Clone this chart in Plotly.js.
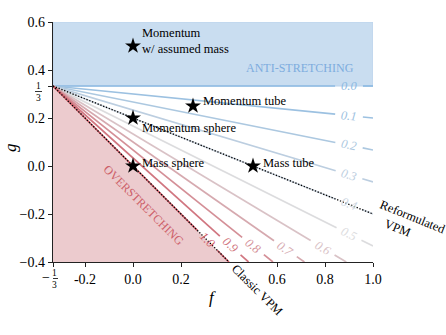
<!DOCTYPE html>
<html>
<head>
<meta charset="utf-8">
<script src="https://cdn.plot.ly/plotly-3.0.1.min.js"></script>
<style>html,body{margin:0;padding:0;background:#fff;}#chart{width:446px;height:335px;}</style>
</head>
<body>
<div id="chart"></div>
<script>
// ---- data ----
const levels = [0.0, 0.1, 0.2, 0.3, 0.4, 0.5, 0.6, 0.7, 0.8, 0.9, 1.0];
const levelText = ['0.0','0.1','0.2','0.3','0.4','0.5','0.6','0.7','0.8','0.9','1.0'];
const labelF = [0.9, 0.9, 0.9, 0.9, 0.9, 0.9, 0.79, 0.635, 0.5, 0.405, 0.31];

const starNames = ['Momentum<br>w/ assumed mass', 'Momentum tube', 'Momentum sphere', 'Mass sphere', 'Mass tube'];
const starF = [0, 0.25, 0, 0, 0.5];
const starG = [0.5, 0.25, 0.2, 0, 0];

const xTickVals = [-1/3, -0.2, 0.0, 0.2, 0.6, 0.8, 1.0];
const xTickText = ['', '-0.2', '0.0', '0.2', '0.6', '0.8', '1.0'];
const yTickVals = [-0.4, -0.2, 0.0, 0.2, 1/3, 0.4, 0.6];
const yTickText = ['\u22120.4', '\u22120.2', '0.0', '0.2', '', '0.4', '0.6'];

const classicSlope = 1.0;      // g = 1/3 - 1.0 (f + 1/3)
const reformSlope = 0.4;       // g = 1/3 - 0.4 (f + 1/3)

// ---- geometry helpers ----
const f0 = -1/3, g0 = 1/3, fMax = 1.0, gMin = -0.4, gMax = 0.6;
function gAt(c, f) { return g0 - c * (f - f0); }
function fEnd(c) { return c === 0 ? fMax : Math.min(fMax, f0 + (g0 - gMin) / c); }
function px(f) { return (f - f0) / (fMax - f0); }
function py(g) { return (g - gMin) / (gMax - gMin); }

function mix(a, b, t) { return a.map((v, i) => Math.round(v + (b[i] - v) * t)); }
const cBlue = [140, 186, 226], cMid = [220, 220, 222], cRed = [206, 92, 104];
function levelColor(c) {
  const col = c <= 0.5 ? mix(cBlue, cMid, c / 0.5) : mix(cMid, cRed, (c - 0.5) / 0.5);
  return 'rgb(' + col.join(',') + ')';
}

const serif = '"Liberation Serif", "Times New Roman", Times, serif';
const traces = [];

// regions
traces.push({x: [f0, fMax, fMax, f0, f0], y: [g0, g0, gMax, gMax, g0], mode: 'lines', fill: 'toself',
  fillcolor: 'rgb(201,221,240)', line: {color: 'rgb(188,211,236)', width: 1}, hoverinfo: 'skip', showlegend: false});
traces.push({x: [f0, f0 + (g0 - gMin) / classicSlope, f0, f0], y: [g0, gMin, gMin, g0], mode: 'lines', fill: 'toself',
  fillcolor: 'rgb(236,203,206)', line: {width: 0}, hoverinfo: 'skip', showlegend: false});

// contour lines with gaps at labels
const gap = 0.058;
const annotations = [];
levels.forEach((c, i) => {
  const d = gap / Math.sqrt(1 + c * c);
  const fl = labelF[i];
  const fe = fEnd(c);
  traces.push({
    x: [f0, fl - d, null, fl + d, fe],
    y: [g0, gAt(c, fl - d), null, gAt(c, fl + d), gAt(c, fe)],
    mode: 'lines', line: {color: levelColor(c), width: 1.7}, connectgaps: false,
    hoverinfo: 'skip', showlegend: false
  });
  annotations.push({x: fl, y: gAt(c, fl), text: '<i>' + levelText[i] + '</i>', showarrow: false,
    textangle: Math.atan(c) * 180 / Math.PI, font: {family: serif, size: 12.5, color: levelColor(c)},
    xanchor: 'center', yanchor: 'middle'});
});

// VPM dotted lines
[classicSlope, reformSlope].forEach(c => {
  const fe = fEnd(c);
  traces.push({x: [f0, fe], y: [g0, gAt(c, fe)], mode: 'lines',
    line: {color: 'black', width: 1.3, dash: '1.3px,1.7px'}, hoverinfo: 'skip', showlegend: false});
});

// stars
traces.push({x: starF, y: starG, mode: 'markers', marker: {symbol: 'star', size: 12, color: 'black'},
  hoverinfo: 'skip', showlegend: false, cliponaxis: false});

const starShift = [[7, 5], [8, 5], [7, -10], [7, 3], [8, 3]];
starNames.forEach((n, i) => {
  annotations.push({x: starF[i], y: starG[i], text: n, showarrow: false, xanchor: 'left', yanchor: 'middle',
    align: 'left', xshift: starShift[i][0], yshift: starShift[i][1], font: {family: serif, size: 12.5, color: 'black'}});
});

// region / line labels
const C = {xanchor: 'center', yanchor: 'middle', showarrow: false};
annotations.push(Object.assign({x: 0.696, y: 0.408, text: 'ANTI-STRETCHING',
  font: {family: serif, size: 12, color: 'rgb(125,172,222)'}}, C));
annotations.push(Object.assign({x: 0.044, y: -0.1625, text: 'OVERSTRETCHING', textangle: 45,
  font: {family: serif, size: 12, color: 'rgb(205,95,105)'}}, C));
annotations.push(Object.assign({xref: 'paper', yref: 'paper', x: px(0.517), y: py(-0.517), text: 'Classic VPM', textangle: 45,
  font: {family: serif, size: 12.5, color: 'black'}}, C));
annotations.push(Object.assign({xref: 'paper', yref: 'paper', x: px(1.165), y: py(-0.2125), text: 'Reformulated', textangle: 22,
  font: {family: serif, size: 12.5, color: 'black'}}, C));
annotations.push(Object.assign({xref: 'paper', yref: 'paper', x: px(1.100), y: py(-0.258), text: 'VPM', textangle: 22,
  font: {family: serif, size: 12.5, color: 'black'}}, C));

// axis titles
annotations.push(Object.assign({xref: 'paper', yref: 'paper', x: 0.497, y: -0.146, text: '<i>f</i>',
  font: {family: serif, size: 17, color: 'black'}}, C));
annotations.push(Object.assign({xref: 'paper', yref: 'paper', x: -0.134, y: 0.475, text: '<i>g</i>', textangle: -90,
  font: {family: serif, size: 17, color: 'black'}}, C));

// fraction tick labels
annotations.push(Object.assign({xref: 'paper', x: 0, y: 1/3, xshift: -14.5, yshift: -6, text: '1<br>3',
  font: {family: serif, size: 9.5, color: 'black'}}, C));
annotations.push(Object.assign({x: f0, yref: 'paper', y: 0, xshift: 1.5, yshift: -17, text: '1<br>3',
  font: {family: serif, size: 9.5, color: 'black'}}, C));
annotations.push(Object.assign({x: f0, yref: 'paper', y: 0, xshift: -7, yshift: -15, text: '\u2212',
  font: {family: serif, size: 14, color: 'black'}}, C));

const shapes = [
  {type: 'line', xref: 'paper', xsizemode: 'pixel', xanchor: 0, x0: -18, x1: -11,
   yref: 'y', ysizemode: 'pixel', yanchor: 1/3, y0: -5.5, y1: -5.5, line: {color: 'black', width: 0.8}},
  {type: 'line', xref: 'x', xsizemode: 'pixel', xanchor: f0, x0: -2, x1: 5,
   yref: 'paper', ysizemode: 'pixel', yanchor: 0, y0: -16.5, y1: -16.5, line: {color: 'black', width: 0.8}}
];

const axisCommon = {showgrid: false, zeroline: false, showline: true, linecolor: '#222', linewidth: 1.2,
  ticks: 'outside', ticklen: 4, tickwidth: 1, tickcolor: '#222', tickmode: 'array',
  tickfont: {family: serif, size: 14, color: 'black'}, fixedrange: true};

const layout = {
  width: 446, height: 335,
  margin: {l: 53, r: 73, t: 22, b: 73, pad: 0},
  paper_bgcolor: 'white', plot_bgcolor: 'white',
  font: {family: serif},
  showlegend: false,
  xaxis: Object.assign({}, axisCommon, {range: [f0, fMax], tickvals: xTickVals, ticktext: xTickText}),
  yaxis: Object.assign({}, axisCommon, {range: [gMin, gMax], tickvals: yTickVals, ticktext: yTickText}),
  annotations: annotations,
  shapes: shapes
};

Plotly.newPlot('chart', traces, layout, {staticPlot: true, displayModeBar: false});
</script>
</body>
</html>
